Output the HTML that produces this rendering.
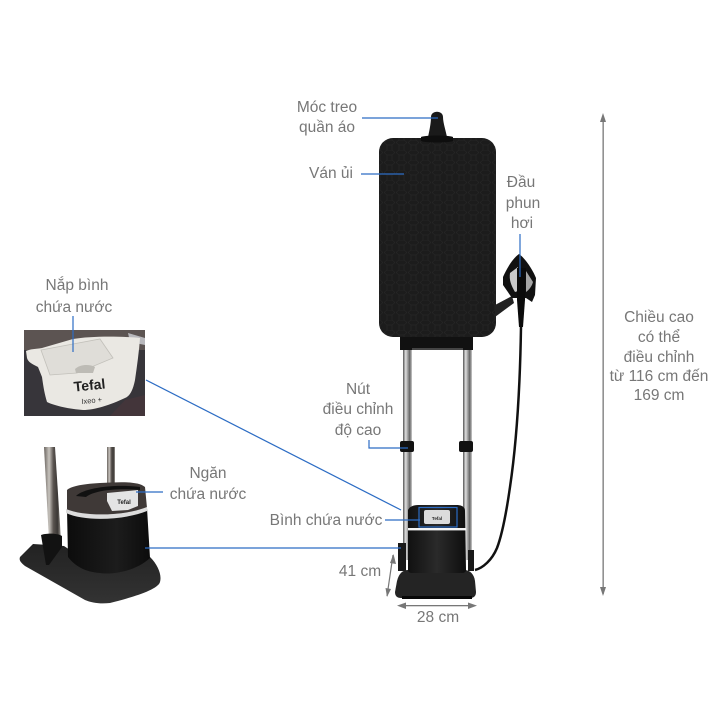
<!DOCTYPE html>
<html><head><meta charset="utf-8"><style>
html,body{margin:0;padding:0;background:#fff;width:720px;height:720px;overflow:hidden}
svg{display:block}
text{font-family:"Liberation Sans","Noto Sans CJK SC",sans-serif;font-size:15.5px;fill:#777;text-anchor:middle}
</style></head><body>
<svg width="720" height="720" viewBox="0 0 720 720" xmlns="http://www.w3.org/2000/svg">
<defs>
<linearGradient id="pole" x1="0" x2="1" y1="0" y2="0"><stop offset="0" stop-color="#555"/><stop offset=".3" stop-color="#e0e0e0"/><stop offset=".55" stop-color="#999"/><stop offset=".75" stop-color="#666"/><stop offset="1" stop-color="#ccc"/></linearGradient>
<linearGradient id="pole2" x1="0" x2="1" y1="0" y2="0"><stop offset="0" stop-color="#6b6560"/><stop offset=".3" stop-color="#c8c4be"/><stop offset=".55" stop-color="#5a5450"/><stop offset=".8" stop-color="#3a3634"/><stop offset="1" stop-color="#9a9690"/></linearGradient>
<pattern id="hex" width="12" height="10" patternUnits="userSpaceOnUse"><path d="M0 2.500L3 0L8 0L11 2.500L8 5L3 5Z M3 5L3 10 M8 5L8 10" fill="none" stroke="#2a2a2a" stroke-width=".5"/></pattern>
<linearGradient id="tank" x1="0" x2="1" y1="0" y2="0"><stop offset="0" stop-color="#111"/><stop offset=".5" stop-color="#2a2a2a"/><stop offset="1" stop-color="#0e0e0e"/></linearGradient>
<linearGradient id="tank2" x1="0" x2="1" y1="0" y2="0"><stop offset="0" stop-color="#0c0c0c"/><stop offset=".6" stop-color="#1c1c1c"/><stop offset="1" stop-color="#0c0c0c"/></linearGradient>
<linearGradient id="base2" x1="0" x2="0" y1="0" y2="1"><stop offset="0" stop-color="#222"/><stop offset="1" stop-color="#333"/></linearGradient>
</defs>

<!-- poles -->
<rect x="403" y="345" width="9" height="215" fill="url(#pole)"/>
<rect x="463" y="345" width="9" height="215" fill="url(#pole)"/>
<path d="M400 337H473V350H400Z" fill="#111"/>
<rect x="412" y="348" width="51" height="2" fill="#444"/>
<rect x="400" y="441" width="14" height="11" rx="2" fill="#111"/>
<rect x="459" y="441" width="14" height="11" rx="2" fill="#111"/>

<!-- board -->
<rect x="379" y="138" width="117" height="199" rx="14" fill="#1c1c1c"/>
<rect x="379" y="138" width="117" height="199" rx="14" fill="url(#hex)"/>
<!-- hook -->
<path d="M428 137C430 128 431 122 431 117C431 110 443 110 443 117C443 122 445 128 447 137Z" fill="#1a1a1a"/>
<path d="M421 137C425 135 449 135 453 137V141C449 143 425 143 421 141Z" fill="#0e0e0e"/>

<!-- steam head -->
<path d="M495 305L512 296L514 303L495 317Z" fill="#222"/>
<path d="M519 254C525 258 533 270 536 278L535 295L532 302L526 298H512L503 285V277C507 268 513 258 519 254Z" fill="#111"/>
<path d="M510 273L518 267V291L515 292C511 285 509 280 510 273Z" fill="#c9c9c9"/>
<path d="M526 271L533 282C532 286 529 290 526 292Z" fill="#a6a6a6"/>
<path d="M517 268H526L525 300L523 327L519 327L517 300Z" fill="#0b0b0b"/>
<!-- cord -->
<path d="M521 327C520 390 517 440 510 487C506 515 502 535 497 548C492 560 483 568 475 570" fill="none" stroke="#111" stroke-width="2.500"/>

<!-- station -->
<rect x="398" y="543" width="8" height="28" fill="#191919"/>
<rect x="468" y="550" width="6" height="21" fill="#191919"/>
<path d="M395 592L397 581C399 573 403 570 408 570H464C470 570 474 574 475 581L476 592C476 596 474 598 470 598H401C397 598 395 596 395 592Z" fill="#242424"/>
<path d="M402 596H472V599H402Z" fill="#080808"/>
<path d="M408 510C410 506 414 505 420 505H456C462 505 465 507 465 511L466 570C466 572 464 573 462 573H412C410 573 408 572 408 570Z" fill="url(#tank)"/>
<rect x="408" y="528" width="58" height="2.400" fill="#f4f4f4"/>
<rect x="424" y="510" width="26" height="14" rx="2" fill="#dcdcdc"/>
<text x="437" y="520" style="font-size:4.500px;font-weight:bold;fill:#222">Tefal</text>
<rect x="419" y="507.500" width="38" height="19.500" fill="none" stroke="#2c6cc4" stroke-width="1.200"/>

<!-- inset 1 -->
<rect x="24" y="330" width="121" height="86" fill="#37353a"/>
<rect x="24" y="330" width="121" height="20" fill="#5c5452"/>
<path d="M128 333L145 338V345L130 342Z" fill="#b8b8bc"/>
<path d="M125 400L145 395V416H110Z" fill="#43353a"/>
<path d="M26 351C30 349 36 349 42 348L73 339C90 336 120 336 140 338C139 352 137 366 135 380C133 390 130 396 125 398C110 405 95 410 83 410C70 409 55 406 47 402C44 392 43 384 42 377L38 367C32 364 28 362 27 358Z" fill="#eae8e3"/>
<path d="M41 350L100 339L113 358L77 373L50 375Z" fill="#dfddd8" stroke="#c2c0ba" stroke-width=".8"/>
<path d="M75 369C80 364 90 364 95 367L93 373H76Z" fill="#bdbbb5"/>
<text x="90" y="390" transform="rotate(-6 90 390)" style="font-size:14px;font-weight:bold;fill:#222">Tefal</text>
<text x="92" y="403" transform="rotate(-6 92 403)" style="font-size:7.500px;fill:#333">Ixeo +</text>

<!-- inset 2 -->
<path d="M44 447H55L61 540H49Z" fill="url(#pole2)"/>
<path d="M107 447H115V485H107Z" fill="url(#pole2)"/>
<path d="M20 557L33 544L64 546L100 570L150 557C158 565 162 575 160 582C158 590 130 598 110 603C100 604 92 603 85 600L25 566C20 562 19 560 20 557Z" fill="url(#base2)"/>
<path d="M41 535C46 533 58 533 62 536V547L49 565H46Z" fill="#121212"/>
<path d="M67 510C85 517 125 516 147 508L150 558C135 572 110 575 100 573C85 572 75 566 68 557Z" fill="url(#tank2)"/>
<path d="M67 490C70 487 80 484 100 483C120 482 138 481 145 487L147 508C125 516 85 517 67 510Z" fill="#3f3937"/>
<path d="M66 509C85 517 125 516 147 507V511C125 520 85 522 66 513Z" fill="#dcdcdc"/>
<path d="M76 496C85 487 118 484 140 487V490C118 488 95 490 86 497Z" fill="#111"/>
<path d="M107 493L138 490V506L128 510L112 511L107 501Z" fill="#e4e4e4"/>
<text x="124" y="504" style="font-size:6px;font-weight:bold;fill:#222">Tefal</text>

<!-- blue leaders -->
<g fill="none" stroke="#2c6cc4" stroke-width="1.200">
<path d="M362 118H438"/>
<path d="M361 174H404"/>
<path d="M520 234V277"/>
<path d="M369 440V448H408"/>
<path d="M385 520H420"/>
<path d="M146 380L401 510"/>
<path d="M145 548H401"/>
<path d="M136 492H163"/>
<path d="M73 316V352"/>
</g>
<!-- grey dimension arrows -->
<g fill="#777" stroke="none">
<rect x="602.500" y="118" width="1.300" height="476"/>
<path d="M603 113L600 122H606Z"/>
<path d="M603 596L600 587H606Z"/>
<path d="M393 555L387 596" stroke="#777" stroke-width="1.200"/>
<path d="M393.500 554L390 563L396 564Z"/>
<path d="M387 597L385.500 588L391 589Z"/>
<rect x="402" y="605" width="70" height="1.300"/>
<path d="M397 605.600L406 602.500V609Z"/>
<path d="M477 605.600L468 602.500V609Z"/>
</g>

<!-- labels -->
<text x="327" y="112">Móc treo</text>
<text x="327" y="132">quần áo</text>
<text x="331" y="178">Ván ủi</text>
<text x="521" y="187">Đầu</text>
<text x="523" y="208">phun</text>
<text x="522" y="228">hơi</text>
<text x="77" y="290">Nắp bình</text>
<text x="74" y="312">chứa nước</text>
<text x="208" y="478">Ngăn</text>
<text x="208" y="499">chứa nước</text>
<text x="358" y="394">Nút</text>
<text x="358" y="414">điều chỉnh</text>
<text x="358" y="435">độ cao</text>
<text x="326" y="525">Bình chứa nước</text>
<text x="360" y="576">41 cm</text>
<text x="438" y="622">28 cm</text>
<text x="659" y="322">Chiều cao</text>
<text x="659" y="342">có thể</text>
<text x="659" y="362">điều chỉnh</text>
<text x="659" y="381">từ 116 cm đến</text>
<text x="659" y="400">169 cm</text>
</svg>
</body></html>
